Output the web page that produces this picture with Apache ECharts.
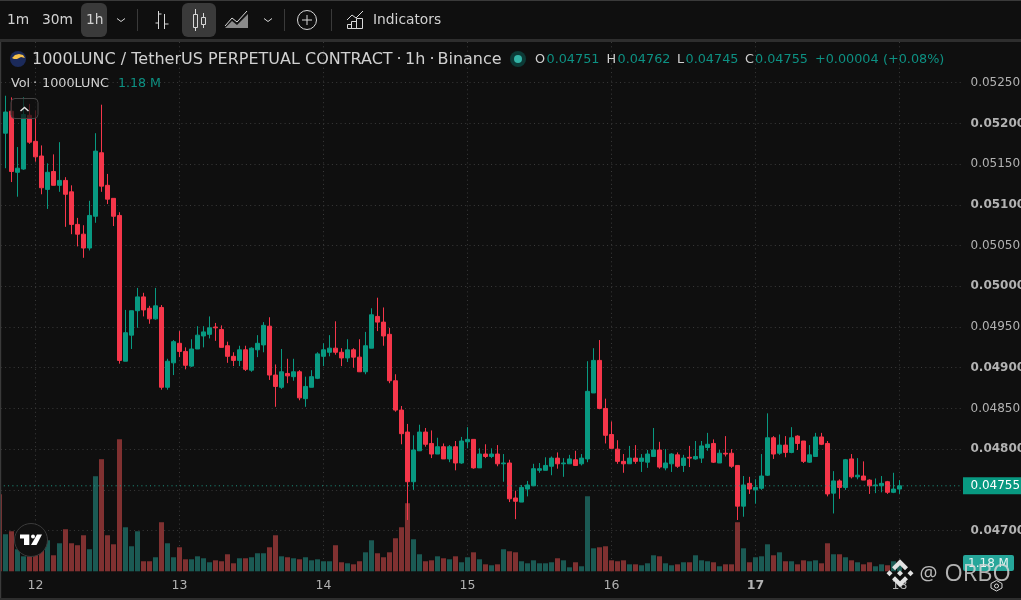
<!DOCTYPE html>
<html><head><meta charset="utf-8">
<style>html,body{margin:0;padding:0;background:#0f0f0f;overflow:hidden}#c{width:1021px;height:600px}</style>
<script src="https://cdn.jsdelivr.net/npm/echarts@6/dist/echarts.min.js"></script>
</head><body><div id="c"></div>
<script>
const opens=[0.05188,0.05215,0.05140,0.05144,0.05210,0.05178,0.05160,0.05119,0.05141,0.05124,0.05130,0.05116,0.05076,0.05064,0.05047,0.05086,0.05164,0.05124,0.05108,0.05087,0.04908,0.04940,0.04970,0.04987,0.04973,0.04960,0.04974,0.04876,0.04906,0.04930,
0.04920,0.04902,0.04923,0.04939,0.04941,0.04950,0.04947,0.04927,0.04914,0.04909,0.04922,0.04897,0.04922,0.04928,0.04951,0.04891,0.04876,0.04893,0.04889,0.04895,0.04862,0.04876,0.04887,0.04914,0.04919,0.04924,0.04919,0.04912,0.04922,0.04913,
0.04895,0.04924,0.04963,0.04956,0.04941,0.04884,0.04848,0.04821,0.04760,0.04798,0.04821,0.04807,0.04794,0.04803,0.04788,0.04803,0.04783,0.04809,0.04812,0.04777,0.04794,0.04791,0.04794,0.04782,0.04783,0.04740,0.04735,0.04751,0.04755,0.04774,
0.04774,0.04779,0.04789,0.04782,0.04782,0.04787,0.04782,0.04788,0.04869,0.04909,0.04850,0.04818,0.04800,0.04785,0.04782,0.04789,0.04785,0.04784,0.04791,0.04799,0.04777,0.04782,0.04793,0.04780,0.04790,0.04788,0.04789,0.04802,0.04807,0.04783,
0.04795,0.04795,0.04780,0.04730,0.04758,0.04750,0.04752,0.04768,0.04814,0.04795,0.04805,0.04796,0.04816,0.04810,0.04784,0.04791,0.04815,0.04807,0.04746,0.04761,0.04753,0.04788,0.04766,0.04767,0.04762,0.04755,0.04755,0.04760,0.04747,0.04751];
const highs=[0.05234,0.05232,0.05171,0.05232,0.05224,0.05216,0.05173,0.05151,0.05162,0.05177,0.05134,0.05124,0.05084,0.05075,0.05105,0.05188,0.05223,0.05138,0.05108,0.05091,0.04971,0.04970,0.04998,0.04992,0.04976,0.04998,0.04977,0.04911,0.04934,0.04945,
0.04925,0.04935,0.04951,0.04951,0.04963,0.04955,0.04952,0.04932,0.04919,0.04927,0.04927,0.04925,0.04940,0.04956,0.04962,0.04904,0.04923,0.04911,0.04911,0.04897,0.04889,0.04897,0.04919,0.04930,0.04940,0.04957,0.04924,0.04935,0.04924,0.04935,
0.04944,0.04973,0.04986,0.04974,0.04949,0.04892,0.04853,0.04831,0.04817,0.04830,0.04826,0.04823,0.04814,0.04807,0.04805,0.04810,0.04815,0.04827,0.04812,0.04801,0.04806,0.04801,0.04805,0.04794,0.04787,0.04749,0.04756,0.04761,0.04782,0.04783,
0.04790,0.04791,0.04796,0.04789,0.04793,0.04798,0.04794,0.04908,0.04924,0.04934,0.04862,0.04834,0.04811,0.04794,0.04804,0.04805,0.04794,0.04799,0.04826,0.04809,0.04800,0.04795,0.04796,0.04793,0.04804,0.04810,0.04810,0.04820,0.04812,0.04799,
0.04816,0.04800,0.04780,0.04767,0.04766,0.04763,0.04794,0.04844,0.04816,0.04818,0.04816,0.04827,0.04817,0.04810,0.04805,0.04820,0.04820,0.04810,0.04773,0.04763,0.04788,0.04794,0.04789,0.04785,0.04763,0.04764,0.04767,0.04761,0.04771,0.04762];
const lows=[0.05145,0.05128,0.05110,0.05143,0.05175,0.05153,0.05113,0.05095,0.05124,0.05116,0.05073,0.05064,0.05049,0.05035,0.05044,0.05078,0.05116,0.05101,0.05074,0.04905,0.04908,0.04923,0.04949,0.04963,0.04954,0.04959,0.04873,0.04873,0.04891,0.04913,
0.04898,0.04901,0.04923,0.04925,0.04936,0.04933,0.04925,0.04906,0.04902,0.04902,0.04896,0.04895,0.04913,0.04919,0.04885,0.04852,0.04874,0.04881,0.04884,0.04860,0.04852,0.04876,0.04886,0.04902,0.04914,0.04916,0.04902,0.04907,0.04900,0.04895,
0.04892,0.04924,0.04945,0.04927,0.04881,0.04846,0.04806,0.04713,0.04750,0.04798,0.04803,0.04789,0.04794,0.04788,0.04784,0.04774,0.04782,0.04801,0.04776,0.04777,0.04789,0.04789,0.04779,0.04760,0.04735,0.04714,0.04735,0.04742,0.04755,0.04771,
0.04774,0.04768,0.04776,0.04766,0.04782,0.04780,0.04780,0.04784,0.04869,0.04849,0.04807,0.04801,0.04782,0.04771,0.04782,0.04782,0.04772,0.04777,0.04791,0.04776,0.04774,0.04772,0.04777,0.04772,0.04778,0.04787,0.04783,0.04798,0.04783,0.04783,
0.04791,0.04777,0.04713,0.04717,0.04745,0.04733,0.04750,0.04767,0.04788,0.04793,0.04790,0.04795,0.04799,0.04783,0.04783,0.04791,0.04805,0.04742,0.04721,0.04739,0.04750,0.04764,0.04763,0.04762,0.04745,0.04746,0.04747,0.04745,0.04746,0.04745];
const closes=[0.05214,0.05141,0.05145,0.05211,0.05177,0.05159,0.05121,0.05140,0.05124,0.05130,0.05113,0.05076,0.05064,0.05047,0.05087,0.05166,0.05123,0.05107,0.05086,0.04909,0.04943,0.04970,0.04987,0.04971,0.04960,0.04976,0.04876,0.04908,0.04932,0.04920,
0.04903,0.04923,0.04940,0.04944,0.04949,0.04949,0.04925,0.04914,0.04909,0.04922,0.04898,0.04924,0.04930,0.04952,0.04891,0.04877,0.04895,0.04890,0.04895,0.04863,0.04877,0.04889,0.04917,0.04922,0.04924,0.04919,0.04912,0.04922,0.04913,0.04895,
0.04927,0.04965,0.04956,0.04939,0.04884,0.04848,0.04819,0.04760,0.04799,0.04821,0.04806,0.04794,0.04803,0.04788,0.04803,0.04783,0.04810,0.04812,0.04777,0.04794,0.04791,0.04794,0.04782,0.04783,0.04739,0.04736,0.04753,0.04756,0.04776,0.04776,
0.04780,0.04789,0.04782,0.04783,0.04788,0.04780,0.04789,0.04871,0.04909,0.04850,0.04817,0.04801,0.04785,0.04782,0.04789,0.04785,0.04789,0.04794,0.04799,0.04778,0.04783,0.04794,0.04779,0.04789,0.04789,0.04791,0.04804,0.04806,0.04784,0.04795,
0.04794,0.04779,0.04730,0.04756,0.04751,0.04753,0.04767,0.04814,0.04794,0.04805,0.04796,0.04814,0.04807,0.04785,0.04793,0.04815,0.04806,0.04745,0.04761,0.04753,0.04787,0.04766,0.04768,0.04762,0.04755,0.04756,0.04758,0.04747,0.04751,0.04755];
// volumes in millions; the first entry belongs to the candle cut off at the left edge
const volumes=[11.36,5.46,5.90,3.25,2.21,2.21,2.80,3.10,4.57,2.36,4.13,6.20,4.13,3.84,5.31,3.25,14.01,16.52,5.31,3.98,19.47,6.49,3.69,5.90,1.48,1.48,2.07,7.23,4.13,2.07,3.54,
1.77,1.77,2.21,1.92,1.33,1.62,1.48,2.51,1.18,1.92,1.92,2.07,2.66,2.66,3.54,5.31,2.21,2.07,1.92,1.77,2.07,1.62,1.77,1.48,1.48,3.84,
1.33,1.18,1.03,1.48,2.80,4.57,2.66,2.07,2.80,4.87,6.49,10.03,4.72,2.51,1.48,1.62,2.21,1.92,1.77,2.21,1.33,2.07,2.80,1.77,1.03,0.89,1.03,3.25,2.95,2.80,1.48,1.18,1.62,1.18,1.18,1.33,1.92,1.62,0.59,1.33,0.74,11.06,3.39,3.54,3.69,1.62,1.48,1.62,1.03,1.03,0.89,1.18,2.36,2.21,1.18,0.89,1.03,
1.33,1.33,2.36,1.62,1.48,1.33,0.74,1.03,1.03,7.23,3.39,1.33,2.07,2.21,3.98,2.36,2.80,1.48,1.48,1.03,1.62,1.48,1.62,1.18,4.13,2.51,2.51,2.07,1.62,1.33,1.03,1.33,0.74,1.03,0.89,1.48,1.18];
const dayLabels=['12','13','14','15','16','17','18'];
const dayIndex=[6,30,54,78,102,126,150];
const priceTicksBold=['0.05200','0.05100','0.05000','0.04900','0.04800','0.04700'];
const lastPrice=0.04755;
const slots=161;

const GREEN='#089981',RED='#f5364a',VGREEN='#1b5a54',VRED='#803131',FONT='"DejaVu Sans"';
const cats=Array.from({length:slots},(_,i)=>{const k=dayIndex.indexOf(i);return k>=0?dayLabels[k]:String(i)});
const candle=cats.map((_,i)=>i>=1&&i<=opens.length?[opens[i-1],closes[i-1],lows[i-1],highs[i-1]]:'-');
const vols=cats.map((_,i)=>{if(i>=volumes.length)return '-';const up=i>=1&&closes[i-1]>opens[i-1];return{value:volumes[i],itemStyle:{color:up?VGREEN:VRED}}});

const T=(x,y,s,fill,size)=>({type:'text',x,y,silent:true,z:20,style:{text:s,fill,font:size+'px '+FONT,textVerticalAlign:'middle'}});
const R=(x,y,w,h,fill,r)=>({type:'rect',silent:true,z:18,shape:{x,y,width:w,height:h,r:r||0},style:{fill}});
const L=(pts,stroke,lw)=>({type:'polyline',silent:true,z:20,shape:{points:pts},style:{stroke:stroke||'#d1d1d1',lineWidth:lw||1,fill:null}});
const P=(pts,fill)=>({type:'polygon',silent:true,z:21,shape:{points:pts},style:{fill}});
const C=(cx,cy,r,fill,stroke,lw)=>({type:'circle',silent:true,z:20,shape:{cx,cy,r},style:{fill:fill||'transparent',stroke:stroke||null,lineWidth:lw||1}});
const ICON='#d8d8d8',TXT='#d1d1d1',TEAL='#0d9183';
const g=[
 R(0,0,1021,39,'#0f0f0f'),R(0,0,1021,1,'#3a3a3a'),R(0,39,1021,3,'#2e2e2e'),
 R(0,42,1.2,558,'#3a3a3a'),R(0,598,1021,2,'#2e2e2e'),
 R(81,3,26,34,'#3a3a3a',6),R(182,3,34,34,'#3a3a3a',6),
 T(7,20.5,'1m',TXT,13.8),T(42,20.5,'30m',TXT,13.8),T(86,20.5,'1h',TXT,13.8),
 L([[117,18.5],[121,21.5],[125,18.5]],ICON),
 R(137,9,1,22,'#3a3a3a'),
 L([[155.5,23],[158.5,23],[158.5,11],[158.5,29]],ICON),L([[164.5,14],[164.5,29]],ICON),L([[158.5,14],[161.5,14]],ICON),L([[164.5,24],[168.5,24]],ICON),
 {type:'rect',silent:true,z:20,shape:{x:193.5,y:14.5,width:4,height:13},style:{fill:'transparent',stroke:ICON}},L([[195.5,9],[195.5,14]],ICON),L([[195.5,28],[195.5,31]],ICON),
 {type:'rect',silent:true,z:20,shape:{x:201.5,y:17.5,width:4,height:7},style:{fill:'transparent',stroke:ICON}},L([[203.5,13],[203.5,17]],ICON),L([[203.5,25],[203.5,28]],ICON),
 L([[225,26],[232,18],[237,22],[247,11]],ICON),{type:'polygon',silent:true,z:19,shape:{points:[[225,28],[232,21],[237,25],[248,14],[248,28]]},style:{fill:'#8a8a8a'}},
 L([[264,18.5],[268,21.5],[272,18.5]],ICON),
 R(284,9,1,22,'#3a3a3a'),
 C(307,20,9.5,null,ICON,1),L([[302,20],[312,20]],ICON),L([[307,15],[307,25]],ICON),
 R(331,9,1,22,'#3a3a3a'),
 L([[347,20],[352,15],[356,18],[363,11]],ICON),
 {type:'rect',silent:true,z:20,shape:{x:347.5,y:24.5,width:4,height:4},style:{fill:'transparent',stroke:ICON}},
 {type:'rect',silent:true,z:20,shape:{x:351.5,y:21.5,width:5,height:7},style:{fill:'transparent',stroke:ICON}},
 {type:'rect',silent:true,z:20,shape:{x:356.5,y:18.5,width:6,height:10},style:{fill:'transparent',stroke:ICON}},
 T(373,20.5,'Indicators',TXT,13.8),
 // legend
 C(18,59,8,'#1b2a5a'),P([[12,58],[15,55],[19,54],[23,55],[25,58],[21,57],[17,59],[14,59]],'#f5c04a'),
 T(32,59.5,'1000LUNC / TetherUS PERPETUAL CONTRACT',TXT,16),T(396.5,59.5,'·',TXT,16),T(405,59.5,'1h',TXT,16),T(429.5,59.5,'·',TXT,16),T(437.5,59.5,'Binance',TXT,16),
 C(518,59,8,'#0c3a36'),C(518,59,4,'#33b3a6'),
 T(535,59.5,'O',TXT,12.8),T(546.5,59.5,'0.04751',TEAL,12.8),
 T(606.5,59.5,'H',TXT,12.8),T(617.5,59.5,'0.04762',TEAL,12.8),
 T(677,59.5,'L',TXT,12.8),T(685.5,59.5,'0.04745',TEAL,12.8),
 T(745,59.5,'C',TXT,12.8),T(755,59.5,'0.04755',TEAL,12.8),
 T(815,59.5,'+0.00004',TEAL,12.8),T(883,59.5,'(+0.08%)',TEAL,12.8),
 T(11,83.5,'Vol',TXT,12.8),T(33,83.5,'·',TXT,12.8),T(42,83.5,'1000LUNC',TXT,12.8),T(118,83.5,'1.18 M',TEAL,12.6),
 // collapse button
 {type:'rect',silent:true,z:22,shape:{x:11,y:98.5,width:27,height:20,r:4},style:{fill:'rgba(15,15,15,0.72)',stroke:'#444',lineWidth:1}},
 Object.assign(L([[20.5,111],[24.5,107.5],[28.5,111]],'#e0e0e0',1.5),{z:23}),
 // TV logo
 C(31,540,16.5,'#111','#3a3a3a',1),
 P([[20,534.6],[29.3,534.6],[29.3,545],[24,545],[24,538.6],[20,538.6]],'#fff'),Object.assign(C(33,536.5,2,'#fff'),{z:21}),P([[37,534.6],[42,534.6],[36.5,545],[31,545]],'#fff'),
 // volume tag
 R(963,555,51,16,'#26a69a',2),
 {type:'text',silent:true,z:21,x:988.5,y:563.5,style:{text:'1.18 M',fill:'#e8f5f3',font:'12px '+FONT,textAlign:'center',textVerticalAlign:'middle'}},
 // watermark
 P([[900,559.3],[908,567.3],[905,570.3],[900,565.3],[895,570.3],[892,567.3]],'#e2e2e2'),
 P([[900,587.3],[908,579.3],[905,576.3],[900,581.3],[895,576.3],[892,579.3]],'#e2e2e2'),
 P([[886.5,573.3],[889.5,570.3],[892.5,573.3],[889.5,576.3]],'#e2e2e2'),
 P([[907.5,573.3],[910.5,570.3],[913.5,573.3],[910.5,576.3]],'#e2e2e2'),
 P([[897,573.3],[900,570.3],[903,573.3],[900,576.3]],'#e2e2e2'),
 {type:'text',silent:true,z:23,x:919.5,y:574,style:{text:'@',fill:'rgba(215,215,215,0.85)',font:'20px "Open Sans"',textVerticalAlign:'middle'}},
 {type:'text',silent:true,z:23,x:944.5,y:574,style:{text:'ORBO',fill:'rgba(215,215,215,0.82)',font:'23.5px "Open Sans"',textVerticalAlign:'middle'}},
 L([[991,588],[991,583.5],[996.5,580.5],[1002,583.5],[1002,588],[996.5,591],[991,588]],'#d8d8d8',1),C(996.5,586,2,null,'#d8d8d8',1)
];

const chart=echarts.init(document.getElementById('c'),null,{renderer:'canvas',width:1021,height:600});
chart.setOption({
 animation:false,backgroundColor:'#0f0f0f',
 grid:{left:-3.5,top:42,width:966,height:529.3,containLabel:false,outerBoundsMode:'none'},
 xAxis:{type:'category',data:cats,boundaryGap:true,
  axisLine:{show:false},
  axisTick:{show:false},
  axisLabel:{interval:(i)=>dayIndex.includes(i),color:'#b2b2b2',fontFamily:FONT,fontSize:12.5,margin:8,hideOverlap:false,
    formatter:(v)=>v==='17'?'{b|17}':v,rich:{b:{fontWeight:'bold',color:'#b2b2b2',fontFamily:FONT,fontSize:12.5}}},
  splitLine:{show:true,alignWithLabel:true,interval:(i)=>dayIndex.includes(i),lineStyle:{color:'#3a3a3a',type:[1,3.3],width:1}}},
 yAxis:[
  {type:'value',position:'right',min:0.0465,max:0.053,interval:0.0005,scale:true,
   axisLine:{show:false},axisTick:{show:false},
   splitLine:{show:true,showMinLine:false,showMaxLine:false,lineStyle:{color:'#3a3a3a',type:[1,3.3],width:1}},
   axisLabel:{margin:8,showMinLabel:false,showMaxLabel:false,color:'#b2b2b2',fontFamily:FONT,fontSize:12,
    formatter:(v)=>{const s=v.toFixed(5);return priceTicksBold.includes(s)?'{b|'+s+'}':s},
    rich:{b:{fontWeight:'bold',color:'#b2b2b2',fontFamily:FONT,fontSize:12}}}},
  {type:'value',show:false,min:0,max:78,splitLine:{show:false}}
 ],
 series:[
  {type:'bar',name:'Vol',xAxisIndex:0,yAxisIndex:1,data:vols,barWidth:5,z:1,silent:true},
  {type:'candlestick',name:'1000LUNC',xAxisIndex:0,yAxisIndex:0,data:candle,barWidth:4,z:2,silent:true,
   itemStyle:{color:GREEN,color0:RED,borderColor:GREEN,borderColor0:RED,borderWidth:1}},
  {type:'line',name:'last',xAxisIndex:0,yAxisIndex:0,data:cats.map(()=>lastPrice),showSymbol:false,silent:true,z:3,
   lineStyle:{color:'#1f9a86',type:[1,3.3],width:1}}
 ],
 graphic:{elements:g}
});
// price tag placed through the axis scale
const py=chart.convertToPixel({yAxisIndex:0},lastPrice);
chart.setOption({graphic:{elements:[
 {id:'tagBox',type:'rect',silent:true,z:19,shape:{x:963,y:py-8.5,width:58,height:17},style:{fill:GREEN}},
 {id:'tagTxt',type:'text',silent:true,z:21,x:970.5,y:py+0.5,style:{text:lastPrice.toFixed(5),fill:'#fff',font:'12px '+FONT,textVerticalAlign:'middle'}}
]}});
</script></body></html>
